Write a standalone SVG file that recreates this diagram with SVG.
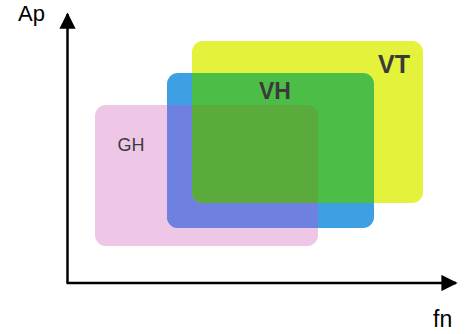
<svg xmlns="http://www.w3.org/2000/svg" width="471" height="334" viewBox="0 0 471 334">
<style>
.lbl{font-family:"Liberation Sans",Arial,sans-serif;fill:#3a3a3a;text-anchor:middle}
.ax{font-family:"Liberation Sans",Arial,sans-serif;fill:#000}
.axis{stroke:#000;stroke-width:2.5;fill:none}
</style>
<defs>
<clipPath id="cpPink"><rect x="95" y="105" width="223" height="141" rx="11"/></clipPath>
<clipPath id="cpBlue"><rect x="167" y="73" width="207" height="155" rx="11"/></clipPath>
<marker id="arr" viewBox="0 0 10 10" refX="9" refY="5" markerWidth="6.5" markerHeight="6.5" markerUnits="strokeWidth" orient="auto"><path d="M0,0 L10,5 L0,10 Z" fill="#000"/></marker>
</defs>
<rect width="471" height="334" fill="#fff"/>
<g id="GH">
<rect x="95" y="105" width="223" height="141" rx="11" fill="#eec6e6"/>
</g>
<g id="VH">
<rect x="167" y="73" width="207" height="155" rx="11" fill="#3e9fe2"/>
<rect x="167" y="73" width="207" height="155" rx="11" fill="#6e80e0" clip-path="url(#cpPink)"/>
</g>
<g id="VT">
<rect x="192" y="41" width="231" height="162" rx="11" fill="#e4f23c"/>
<rect x="192" y="41" width="231" height="162" rx="11" fill="#4cbe48" clip-path="url(#cpBlue)"/>
<g clip-path="url(#cpBlue)"><rect x="192" y="41" width="231" height="162" rx="11" fill="#5aaa3c" clip-path="url(#cpPink)"/></g>
</g>
<text class="lbl" x="131" y="151" font-size="18">GH</text>
<text class="lbl" x="275" y="99" font-size="23" font-weight="bold">VH</text>
<text class="lbl" x="394" y="73" font-size="25" font-weight="bold">VT</text>
<g id="connectors">
<path class="axis" d="M67.5,283 V14" marker-end="url(#arr)"/>
<path class="axis" d="M66.5,283 H456" marker-end="url(#arr)"/>
</g>
<text class="ax" x="18" y="21" font-size="22">Ap</text>
<text class="ax" x="433" y="327" font-size="23">fn</text>
</svg>
